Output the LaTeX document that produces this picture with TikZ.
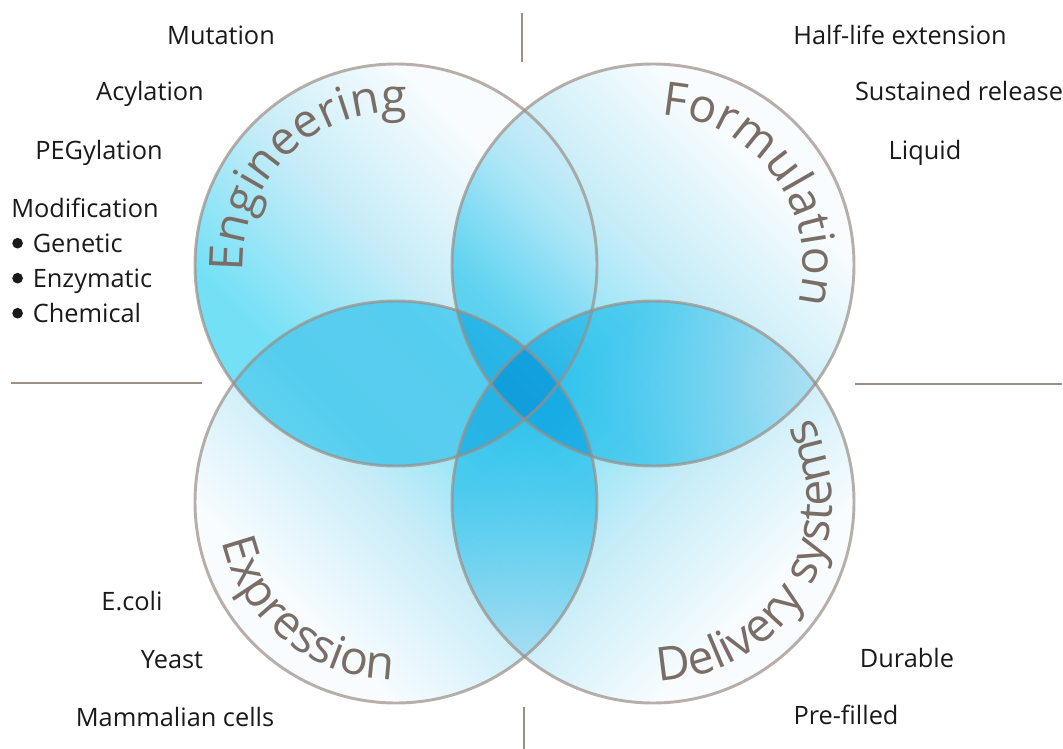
\documentclass[tikz,border=0pt]{standalone}
\usepackage{fontspec}
\setmainfont{Open Sans}
\usetikzlibrary{decorations.text}
\definecolor{cyanEnd}{HTML}{74E0F6}
\definecolor{midC}{HTML}{C6ECF8}
\definecolor{whiteEnd}{HTML}{F8FCFE}
\definecolor{ringC}{HTML}{9A8E86}
\definecolor{ruleC}{HTML}{9C8F87}
\definecolor{titleC}{HTML}{7A6D65}
\definecolor{itemC}{HTML}{1A1A1A}
\pgfdeclareverticalshading{petalfill}{100bp}{color(0bp)=(cyanEnd); color(32bp)=(cyanEnd); color(50bp)=(midC); color(68bp)=(whiteEnd); color(100bp)=(whiteEnd)}
\newcommand\titlefont{\fontsize{35}{42}\selectfont}
\newcommand\bul{\tikz[baseline=0pt]\fill[itemC] (0pt,6.6pt) circle[radius=4pt];\hspace{7.4pt}}
\begin{document}
\begin{tikzpicture}[x=0.75pt,y=-0.75pt,
  petal/.style={shading=petalfill, blend mode=multiply},
  ring/.style={draw=ringC, line width=2.2pt, draw opacity=0.7},
  rulestyle/.style={draw=ruleC, line width=1.1pt},
  item/.style={font=\fontsize{19}{22}\selectfont, text=itemC, inner sep=0pt},
  curved/.style={decorate, decoration={text along path, text align=center, text color=titleC, text={|\titlefont|#1}}}]
\useasboundingbox (0,0) rectangle (1063,749);
\fill[white] (0,0) rectangle (1063,749);
% circle centres
\coordinate (eng) at (396,265);
\coordinate (form) at (653,265);
\coordinate (expr) at (396,502);
\coordinate (deliv) at (653,502);
% fills
\shade[petal, shading angle=-45] (eng) circle[radius=201];
\shade[petal, shading angle=-45] (form) circle[radius=201];
\shade[petal, shading angle=135] (expr) circle[radius=201];
\shade[petal, shading angle=225] (deliv) circle[radius=201];
% rings
\path[ring] (eng) circle[radius=201];
\path[ring] (form) circle[radius=201];
\path[ring] (expr) circle[radius=201];
\path[ring] (deliv) circle[radius=201];
% curved titles
\path[curved=Engineering] (eng) ++(156:153) arc[start angle=156, end angle=296, radius=153];
\path[curved=Formulation] (form) ++(-106:150) arc[start angle=-106, end angle=34, radius=150];
\path[curved=Expression] (expr) ++(200:178) arc[start angle=200, end angle=58, radius=178];
\path[curved=Delivery systems] (deliv) ++(118:179) arc[start angle=118, end angle=-58, radius=179];
% separator rules
\coordinate (tA) at (522,13); \coordinate (tB) at (522,62);
\coordinate (lA) at (11,383); \coordinate (lB) at (202,383);
\coordinate (rA) at (855,384); \coordinate (rB) at (1062,384);
\coordinate (bA) at (524,707); \coordinate (bB) at (524,749);
\draw[rulestyle] (tA) -- (tB);
\draw[rulestyle] (lA) -- (lB);
\draw[rulestyle] (rA) -- (rB);
\draw[rulestyle] (bA) -- (bB);
% left top items
\node[item, anchor=base] (mut) at (221,45) {Mutation};
\node[item, anchor=base] (acy) at (150,100) {Acylation};
\node[item, anchor=base] (peg) at (99,159) {PEGylation};
\node[item, anchor=base west] (mod) at (11,217) {Modification};
\node[item, anchor=base west] (gen) at (12,252) {\bul Genetic};
\node[item, anchor=base west] (enz) at (12,287) {\bul Enzymatic};
\node[item, anchor=base west] (che) at (12,322) {\bul Chemical};
% right top items
\node[item, anchor=base] (half) at (900,45) {Half-life extension};
\node[item, anchor=base] (sus) at (959,100) {Sustained release};
\node[item, anchor=base] (liq) at (925,159) {Liquid};
% bottom items
\node[item, anchor=base] (ecoli) at (132,610) {E.coli};
\node[item, anchor=base] (yeast) at (172,668) {Yeast};
\node[item, anchor=base] (mamm) at (175,726) {Mammalian cells};
\node[item, anchor=base] (dur) at (907,667) {Durable};
\node[item, anchor=base] (pre) at (846,724) {Pre-filled};
\end{tikzpicture}
\end{document}
